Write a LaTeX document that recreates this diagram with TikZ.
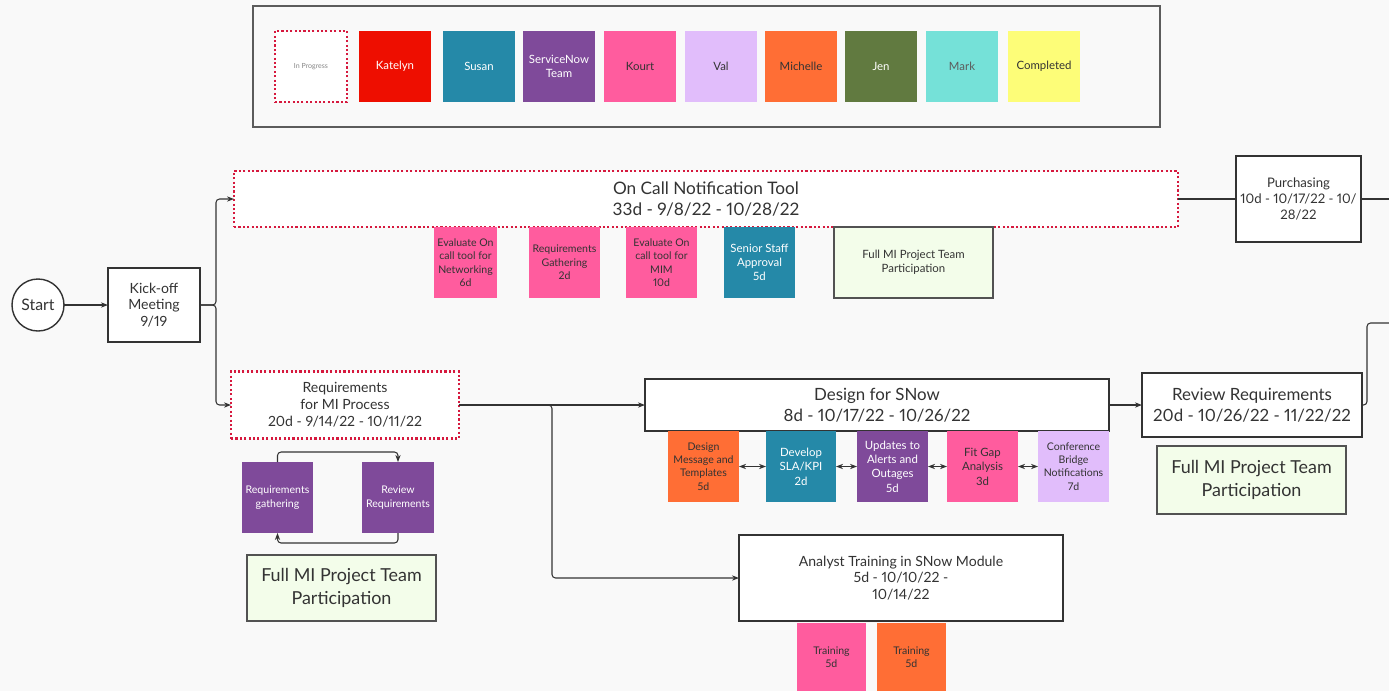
\documentclass[tikz,border=0pt]{standalone}
\usepackage{fontspec}
\setmainfont{Lato}[Numbers=Proportional]
\usetikzlibrary{arrows.meta}

\definecolor{canvas}{HTML}{F9F9F9}
\definecolor{ink}{HTML}{333333}
\definecolor{inprog}{HTML}{D6193E}
\definecolor{katelyn}{HTML}{EE0E00}
\definecolor{susan}{HTML}{2589A8}
\definecolor{snteam}{HTML}{7F4A9A}
\definecolor{kourt}{HTML}{FF5C9E}
\definecolor{val}{HTML}{E1BDFB}
\definecolor{michelle}{HTML}{FF6E35}
\definecolor{jen}{HTML}{617A40}
\definecolor{mark}{HTML}{75E1D8}
\definecolor{done}{HTML}{FDFD78}
\definecolor{teamgreen}{HTML}{F3FDEA}

\begin{document}
\begin{tikzpicture}[x=0.02cm, y=-0.02cm,
  every node/.style={inner sep=1pt, outer sep=0pt, align=center, text=ink},
  wh/.style 2 args={minimum width=#1*0.02cm, minimum height=#2*0.02cm},
  swatch/.style={wh={72}{71}, font=\fontsize{6.5}{8}\selectfont},
  sticky/.style={wh={71}{71}, font=\fontsize{6}{7.6}\selectfont},
  phase/.style={draw=ink, fill=white, line width=0.8pt},
  inprogress/.style={draw=inprog, fill=white, line width=1.5pt, dash pattern=on 1.2pt off 1.3pt},
  team/.style={draw=ink!85, fill=teamgreen, line width=0.8pt},
  midfont/.style={font=\fontsize{8}{9.6}\selectfont},
  bigfont/.style={font=\fontsize{9.6}{12.2}\selectfont},
  conn/.style={draw=ink, line width=0.6pt, rounded corners=2pt},
  arr/.style={conn, -{Stealth[length=4pt,width=3pt]}},
  darr/.style={conn, {Stealth[length=4pt,width=3pt]}-{Stealth[length=4pt,width=3pt]}}]

\fill[canvas] (0,0) rectangle (1389,691);
\useasboundingbox (0,0) rectangle (1389,691);

% legend
\node[draw=ink!80, line width=1pt, wh={907}{121}] (legend) at (706.5,66.5) {};
\node[swatch, inprogress, font=\fontsize{4}{5}\selectfont, text=ink!60] (lgprog) at (311,66.5) {In Progress};
\node[swatch, fill=katelyn, text=white] (lgkatelyn) at (395,66.5) {Katelyn};
\node[swatch, fill=susan, text=white] (lgsusan) at (479,66.5) {Susan};
\node[swatch, fill=snteam, text=white] (lgsnow) at (559,66.5) {ServiceNow\\Team};
\node[swatch, fill=kourt] (lgkourt) at (640,66.5) {Kourt};
\node[swatch, fill=val] (lgval) at (721,66.5) {Val};
\node[swatch, fill=michelle] (lgmichelle) at (801,66.5) {Michelle};
\node[swatch, fill=jen, text=white!90] (lgjen) at (881,66.5) {Jen};
\node[swatch, fill=mark, text=ink!80] (lgmark) at (962,66.5) {Mark};
\node[swatch, fill=done] (lgdone) at (1044,66.5) {Completed};

% main flow
\node[draw=ink, fill=white, circle, line width=0.8pt, minimum size=52*0.02cm, font=\fontsize{9}{11}\selectfont] (start) at (38,305) {Start};
\node[phase, midfont, wh={92}{74}] (kickoff) at (154,305) {Kick-off\\Meeting\\9/19};

\node[inprogress, wh={944}{56}, font=\fontsize{9.8}{11.6}\selectfont] (oncall) at (706,199) {On Call Notification Tool\\33d - 9/8/22 - 10/28/22};
\node[sticky, fill=kourt, wh={63}{71}] (evalnet) at (465.5,262.5) {Evaluate On\\call tool for\\Networking\\6d};
\node[sticky, fill=kourt] (reqgath) at (564.5,262.5) {Requirements\\Gathering\\2d};
\node[sticky, fill=kourt] (evalmim) at (661.5,262.5) {Evaluate On\\call tool for\\MIM\\10d};
\node[sticky, fill=susan, text=white, font=\fontsize{6.5}{8}\selectfont] (senior) at (759.5,262.5) {Senior Staff\\Approval\\5d};
\node[team, wh={159}{71}, font=\fontsize{6.5}{8}\selectfont] (teamA) at (913.5,262.5) {Full MI Project Team\\Participation};

\node[phase, wh={125}{86}, inner sep=0pt, font=\fontsize{7.5}{9.2}\selectfont] (purchasing) at (1298.5,199) {Purchasing\\10d - 10/17/22 - 10/\\28/22};
\coordinate (outA) at (1389,199);

\node[inprogress, midfont, wh={228}{67}] (reqmi) at (345,405) {Requirements\\for MI Process\\20d - 9/14/22 - 10/11/22};
\node[sticky, fill=snteam, text=white] (rgather) at (277.5,497.5) {Requirements\\gathering};
\node[sticky, fill=snteam, text=white, wh={72}{71}] (rreview) at (398,497.5) {Review\\Requirements};
\node[team, wh={189}{66}, font=\fontsize{10.2}{13}\selectfont] (teamB) at (341.5,588) {Full MI Project Team\\Participation};

\node[phase, bigfont, wh={464}{52}] (design) at (877,405) {Design for SNow\\8d - 10/17/22 - 10/26/22};
\node[sticky, fill=michelle] (dmsg) at (703.5,466.5) {Design\\Message and\\Templates\\5d};
\node[sticky, fill=susan, text=white, wh={70}{71}, font=\fontsize{6.5}{8.2}\selectfont] (dsla) at (801,466.5) {Develop\\SLA/KPI\\2d};
\node[sticky, fill=snteam, text=white, font=\fontsize{6.5}{8.2}\selectfont] (dupd) at (892.5,466.5) {Updates to\\Alerts and\\Outages\\5d};
\node[sticky, fill=kourt, font=\fontsize{6.5}{8.2}\selectfont] (dfit) at (982.5,466.5) {Fit Gap\\Analysis\\3d};
\node[sticky, fill=val] (dconf) at (1073.5,466.5) {Conference\\Bridge\\Notifications\\7d};

\node[phase, bigfont, wh={220}{64}] (review) at (1252,405) {Review Requirements\\20d - 10/26/22 - 11/22/22};
\node[team, wh={189}{68}, font=\fontsize{10.2}{13}\selectfont] (teamC) at (1251.5,480) {Full MI Project Team\\Participation};
\coordinate (outB) at (1389,323);

\node[phase, midfont, wh={324}{86}] (analyst) at (901,578) {Analyst Training in SNow Module\\5d - 10/10/22 -\\10/14/22};
\node[sticky, fill=kourt, wh={69}{68}] (train1) at (831.5,657) {Training\\5d};
\node[sticky, fill=michelle, wh={69}{68}] (train2) at (911.5,657) {Training\\5d};

% connectors
\draw[arr] (start) -- (kickoff);
\draw[arr] (kickoff.east) -- ++(16,0) |- (oncall.west);
\draw[arr] (kickoff.east) -- ++(16,0) |- (reqmi.west);
\draw[conn] (oncall.east) -- (purchasing.west);
\draw[conn] (purchasing.east) -- (outA);
\draw[arr] (reqmi.east) -- (design.west);
\draw[arr] (reqmi.east) -- ++(93,0) |- (analyst.west);
\draw[arr] (rgather.north) -- ++(0,-10) -| (rreview.north);
\draw[arr] (rreview.south) -- ++(0,10) -| (rgather.south);
\draw[darr] (dmsg) -- (dsla);
\draw[darr] (dsla) -- (dupd);
\draw[darr] (dupd) -- (dfit);
\draw[darr] (dfit) -- (dconf);
\draw[arr] (design) -- (review);
\draw[conn] (review.east) -- ++(5,0) |- (outB);
\end{tikzpicture}
\end{document}
